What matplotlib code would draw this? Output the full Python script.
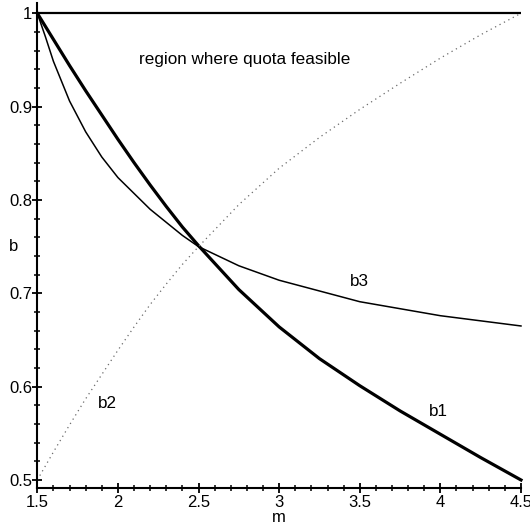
import matplotlib
matplotlib.use("Agg")
import matplotlib.pyplot as plt
from matplotlib.ticker import MultipleLocator, FixedLocator, FixedFormatter

plt.rcParams['font.family'] = ['Liberation Sans', 'DejaVu Sans']

# data
m_b1 = [1.5, 1.6, 1.7, 1.8, 1.9, 2.0, 2.1, 2.2, 2.3, 2.4, 2.5, 2.75, 3.0, 3.25, 3.5, 3.75, 4.0, 4.25, 4.5]
b1 = [1.0, 0.972, 0.944, 0.917, 0.891, 0.865, 0.840, 0.816, 0.793, 0.771, 0.751, 0.704, 0.664, 0.630,
      0.601, 0.574, 0.549, 0.524, 0.500]

m_b3 = [1.5, 1.55, 1.6, 1.7, 1.8, 1.9, 2.0, 2.2, 2.4, 2.5, 2.75, 3.0, 3.5, 4.0, 4.5]
b3 = [1.0, 0.975, 0.9485, 0.906, 0.873, 0.846, 0.824, 0.790, 0.762, 0.750, 0.7295, 0.714, 0.691, 0.676, 0.665]

m_b2 = [1.5, 1.6, 1.7, 1.8, 1.9, 2.0, 2.1, 2.2, 2.3, 2.4, 2.5, 2.75, 3.0, 3.25, 3.5, 3.75, 4.0, 4.25, 4.5]
b2 = [0.5, 0.530, 0.559, 0.587, 0.613, 0.639, 0.664, 0.688, 0.710, 0.731, 0.750, 0.795, 0.834, 0.867,
      0.897, 0.925, 0.952, 0.977, 1.0]

m_top = [1.5, 4.5]
b_top = [1.0, 1.0]

xticks = [1.5, 2, 2.5, 3, 3.5, 4, 4.5]
xticklabels = ["1.5", "2", "2.5", "3", "3.5", "4", "4.5"]
yticks = [0.5, 0.6, 0.7, 0.8, 0.9, 1.0]
yticklabels = ["0.5", "0.6", "0.7", "0.8", "0.9", "1"]

fig = plt.figure(figsize=(5.3, 5.25), dpi=100)
ax = fig.add_axes([0.0704, 0.0710, 0.983 - 0.0704, 0.9937 - 0.0710])

ax.plot(m_top, b_top, color='black', lw=1.6, clip_on=False, solid_capstyle='butt')
ax.plot(m_b1, b1, color='black', lw=2.3, clip_on=False)
ax.plot(m_b3, b3, color='black', lw=1.1, clip_on=False)
ax.plot(m_b2, b2, color='#6a6a6a', lw=0.9, linestyle=(0, (1, 3)), clip_on=False)

ax.set_xlim(1.5, 4.5)
ax.set_ylim(0.4917, 1.0107)

for s in ['top', 'right']:
    ax.spines[s].set_visible(False)
for s in ['left', 'bottom']:
    ax.spines[s].set_linewidth(1.5)

ax.xaxis.set_major_locator(FixedLocator(xticks))
ax.xaxis.set_major_formatter(FixedFormatter(xticklabels))
ax.yaxis.set_major_locator(FixedLocator(yticks))
ax.yaxis.set_major_formatter(FixedFormatter(yticklabels))
ax.xaxis.set_minor_locator(MultipleLocator(0.1))
ax.yaxis.set_minor_locator(MultipleLocator(0.02))
ax.tick_params(which='major', direction='inout', length=7, width=1.3, labelsize=12)
ax.tick_params(axis='x', which='major', pad=2)
ax.tick_params(axis='y', which='major', pad=0)
ax.tick_params(which='minor', direction='inout', length=5, width=1.1)

ax.set_xlabel("m", fontsize=12)
ax.xaxis.label.set_va('baseline')
ax.xaxis.set_label_coords(0.5, (487.7 - 522.0) / 484.4)
ax.set_ylabel("b", fontsize=12, rotation=0, va='center', ha='center')
ax.yaxis.set_label_coords(-0.050, 0.499)

ax.text(2.789, 0.951, "region where quota feasible", fontsize=12.3, ha='center', va='center')
ax.text(3.495, 0.7127, "b3", fontsize=12.3, ha='center', va='center')
ax.text(3.988, 0.573, "b1", fontsize=12.3, ha='center', va='center')
ax.text(1.935, 0.582, "b2", fontsize=12.3, ha='center', va='center')

fig.savefig("out.png", dpi=100)
